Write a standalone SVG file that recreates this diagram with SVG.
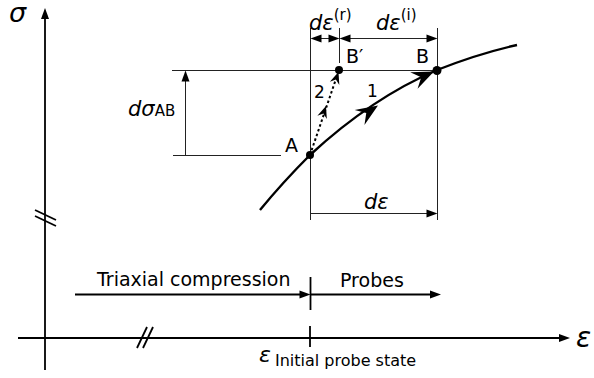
<svg xmlns="http://www.w3.org/2000/svg" xmlns:xlink="http://www.w3.org/1999/xlink" width="594" height="378" viewBox="0 0 594 378">
<style>
text{font-family:"DejaVu Sans","Liberation Sans",sans-serif;fill:#000}
.it{font-style:italic}
.thin{stroke:#222;stroke-width:1;fill:none}
.axis{stroke:#000;stroke-width:1.8;fill:none}
.curve{stroke:#000;stroke-width:2.4;fill:none}
.dot{fill:#000}
</style>
<defs>
<path id="tri" d="M0,0 L-11,-4 L-11,4 Z" fill="#000"/>
<path id="stealth" d="M0,0 L-22,-9 L-14,0 L-22,9 Z" fill="#000"/>
<path id="stealthS" d="M0,0 L-12,-5 L-8,0 L-12,5 Z" fill="#000"/>
</defs>
<g id="axes">
<line class="axis" x1="45" y1="370" x2="45" y2="14"/>
<use xlink:href="#tri" transform="translate(45,8) rotate(-90)"/>
<line class="axis" x1="18" y1="338" x2="562" y2="338"/>
<use xlink:href="#tri" transform="translate(570,338)"/>
<line class="axis" x1="35" y1="210" x2="56" y2="220" stroke-width="1.5"/>
<line class="axis" x1="35" y1="216" x2="56" y2="226" stroke-width="1.5"/>
<line class="axis" x1="137" y1="348" x2="147" y2="327" stroke-width="1.5"/>
<line class="axis" x1="143" y1="348" x2="153" y2="327" stroke-width="1.5"/>
<line class="axis" x1="310" y1="326" x2="310" y2="347" stroke-width="1.5"/>
<text class="it" x="9" y="22" font-size="27">σ</text>
<text class="it" x="576" y="347" font-size="28">ε</text>
<text class="it" x="259" y="362" font-size="22">ε</text>
<text x="275" y="366" font-size="16">Initial probe state</text>
</g>
<g id="connectors">
<line class="thin" x1="172" y1="70.5" x2="437" y2="70.5"/>
<line class="thin" x1="173" y1="155.5" x2="281" y2="155.5"/>
<line class="thin" x1="185.5" y1="155" x2="185.5" y2="78"/>
<use xlink:href="#tri" transform="translate(185.5,70.5) rotate(-90)"/>
<line class="thin" x1="310.5" y1="28" x2="310.5" y2="220"/>
<line class="thin" x1="437.5" y1="28" x2="437.5" y2="220"/>
<line class="thin" x1="339.5" y1="28" x2="339.5" y2="63"/>
<line class="thin" x1="318" y1="38.5" x2="332" y2="38.5"/>
<use xlink:href="#tri" transform="translate(310.5,38.5) rotate(180)"/>
<use xlink:href="#tri" transform="translate(339.5,38.5)"/>
<line class="thin" x1="348" y1="38.5" x2="429" y2="38.5"/>
<use xlink:href="#tri" transform="translate(339.5,38.5) rotate(180)"/>
<use xlink:href="#tri" transform="translate(437.5,38.5)"/>
<line class="thin" x1="310.5" y1="213.5" x2="429" y2="213.5"/>
<use xlink:href="#tri" transform="translate(437.5,213.5)"/>
<line class="axis" x1="75" y1="294.5" x2="302" y2="294.5" stroke-width="1.5"/>
<use xlink:href="#tri" transform="translate(310.5,294.5)"/>
<line class="axis" x1="310.5" y1="277" x2="310.5" y2="310" stroke-width="1.5"/>
<line class="axis" x1="310.5" y1="294.5" x2="432" y2="294.5" stroke-width="1.5"/>
<use xlink:href="#tri" transform="translate(441,294.5)"/>
<path class="curve" d="M260,210 C278,188 295,170 310,155 C350,118 395,88 437,70 C465,59 490,51 517,45"/>
<use xlink:href="#stealth" transform="translate(378,105.5) rotate(-33)"/>
<use xlink:href="#stealth" transform="translate(434,71.5) rotate(-24)"/>
<line x1="310" y1="155" x2="337" y2="76" stroke="#000" stroke-width="2" stroke-dasharray="2.5,2.5"/>
<use xlink:href="#stealthS" transform="translate(326,106) rotate(-71)"/>
<use xlink:href="#stealthS" transform="translate(338.5,72) rotate(-71)"/>
</g>
<g id="node-A">
<circle class="dot" cx="310" cy="155" r="4"/>
<text x="285" y="152" font-size="19">A</text>
</g>
<g id="node-Bp">
<circle class="dot" cx="339" cy="70" r="4"/>
<text x="346" y="63" font-size="19">B′</text>
</g>
<g id="node-B">
<circle class="dot" cx="437" cy="70.5" r="4.5"/>
<text x="416" y="63" font-size="19">B</text>
</g>
<g id="labels">
<text x="314" y="98" font-size="17">2</text>
<text x="367" y="97" font-size="17">1</text>
<text x="128" y="116"><tspan class="it" font-size="21">dσ</tspan><tspan font-size="15">AB</tspan></text>
<text x="309" y="30"><tspan class="it" font-size="21">dε</tspan><tspan font-size="15" dy="-10">(r)</tspan></text>
<text x="376" y="30"><tspan class="it" font-size="21">dε</tspan><tspan font-size="15" dy="-10">(i)</tspan></text>
<text class="it" x="364" y="209" font-size="21">dε</text>
<text x="97" y="286" font-size="19">Triaxial compression</text>
<text x="340" y="287" font-size="19">Probes</text>
</g>
</svg>
